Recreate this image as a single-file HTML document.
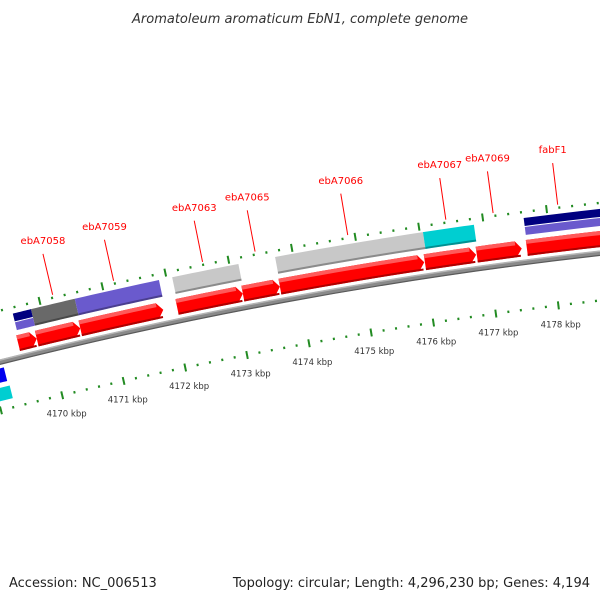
<!DOCTYPE html>
<html><head><meta charset="utf-8"><style>
html,body{margin:0;padding:0;background:#fff;overflow:hidden;width:600px;height:600px;}
svg{display:block;font-family:"DejaVu Sans","Liberation Sans",sans-serif;overflow:hidden;}
</style></head><body>
<svg id="map" width="600" height="600" viewBox="0 0 600 600" xmlns="http://www.w3.org/2000/svg">
<rect width="600" height="600" fill="#fff"/>
<text x="300" y="23" text-anchor="middle" font-size="13" font-style="italic" fill="#333">Aromatoleum aromaticum EbN1, complete genome</text>
<g id="layer"></g>
<text x="9" y="587" font-size="13" fill="#222">Accession: NC_006513</text>
<text x="590" y="587" text-anchor="end" font-size="13" fill="#222">Topology: circular; Length: 4,296,230 bp; Genes: 4,194</text>
</svg>
<script>
// forward-strand CDS (kbp)
const fwdStart = [4169.52, 4169.82, 4170.52, 4172.07, 4173.12, 4173.71, 4176.01, 4176.83, 4177.62];
const fwdEnd   = [4169.82, 4170.52, 4171.85, 4173.12, 4173.71, 4176.00, 4176.82, 4177.54, 4179.40];
// COG-class feature ring (kbp)
const featStart = [4169.84, 4170.54, 4172.09, 4173.72, 4176.05];
const featEnd   = [4170.54, 4171.88, 4173.14, 4176.05, 4176.85];
const featClass = ["dark", "purple", "light", "light", "cyan"];
// split (two-class) features
const splitStart = [4169.55, 4177.63];
const splitEnd   = [4169.84, 4179.40];
// reverse-strand features
const revStart = [4168.90, 4168.90];
const revEnd   = [4169.21, 4169.23];
const revClass = ["blue", "cyan"];
// gene labels
const geneNames = ["ebA7058","ebA7059","ebA7063","ebA7065","ebA7066","ebA7067","ebA7069","fabF1"];
const geneAnchor = [4170.22, 4171.19, 4172.60, 4173.43, 4174.89, 4176.43, 4177.17, 4178.18];
// ruler
const rulerMin = 4168.8, rulerMax = 4179.4, rulerStep = 0.2;
const kbpLabels = [4170, 4171, 4172, 4173, 4174, 4175, 4176, 4177, 4178];

const CX = 1103, CY = 4729, R = 4504;
const PHI0 = -0.2074, K = 0.01415;
const colors = {dark:"#696969", purple:"#6a5acd", light:"#c8c8c8", cyan:"#00ced1", blue:"#0000ee", navy:"#000080"};
const NS = "http://www.w3.org/2000/svg";
const layer = document.getElementById('layer');

function phi(k){ return PHI0 + (k - 4172) * K; }
function pt(r, k){ const p = phi(k); return [CX + r*Math.sin(p), CY - r*Math.cos(p)]; }
function mk(tag, attrs){ const e = document.createElementNS(NS, tag); for (const a in attrs) e.setAttribute(a, attrs[a]); layer.appendChild(e); return e; }
function arcPts(r, k1, k2){ const out=[]; const n=10; for(let i=0;i<=n;i++){ out.push(pt(r, k1+(k2-k1)*i/n)); } return out; }
function band(k1, k2, r1, r2, fill){
  const pts = arcPts(r2, k1, k2).concat(arcPts(r1, k2, k1));
  return mk('polygon', {points: pts.map(p=>p[0].toFixed(2)+','+p[1].toFixed(2)).join(' '), fill: fill});
}
function arrow(k1, k2, r1, r2, fill){
  const head = 6 / (R * K);
  const kb = Math.max(k1, k2 - head);
  const pts = arcPts(r2, k1, kb).concat([pt((r1+r2)/2, k2)]).concat(arcPts(r1, kb, k1));
  return mk('polygon', {points: pts.map(p=>p[0].toFixed(2)+','+p[1].toFixed(2)).join(' '), fill: fill});
}

// backbone
let bb = mk('circle', {cx:CX, cy:CY, r:R, fill:'none', stroke:'#8a8a8a', 'stroke-width':5});


let bbt = mk('circle', {cx:CX, cy:CY, r:R+2, fill:'none', stroke:'#b5b5b5', 'stroke-width':1.5});


let bbb = mk('circle', {cx:CX, cy:CY, r:R-2.2, fill:'none', stroke:'#5a5a5a', 'stroke-width':1.2});



// rulers
function ruler(r, name){
  const n = Math.round((rulerMax - rulerMin) / rulerStep);
  for (let i = 0; i <= n; i++){
    const k = rulerMin + i * rulerStep;
    const major = Math.abs(k - Math.round(k)) < 1e-6;
    const h = major ? 4 : 1.2;
    const a = pt(r - h, k), b = pt(r + h, k);
    const t = mk('line', {x1:a[0], y1:a[1], x2:b[0], y2:b[1], stroke:'#228b22', 'stroke-width':2});
    
    
  }
}
ruler(R - 47, 'lower-ruler');
ruler(R + 50, 'upper-ruler');
kbpLabels.forEach(k => {
  const p = pt(R - 66, k);
  const t = mk('text', {x:p[0], y:p[1]+3, 'text-anchor':'middle', 'font-size':8.5, fill:'#333'});
  t.textContent = k + ' kbp';
  
  
});

// forward CDS arrows
fwdStart.forEach((s, i) => {
  const e = fwdEnd[i];
  const a = arrow(s, e, R + 6, R + 22, '#ff0000');
  
  
  const head = 6 / (R * K);
  const hl = band(s, Math.max(s, e - head), R + 18, R + 22, '#ff5a5a');
  
  
  const sh = band(s, Math.max(s, e - head*0.3), R + 6, R + 8, '#b00000');
  
  
});

// feature ring
featStart.forEach((s, i) => {
  const b = band(s, featEnd[i], R + 27, R + 44, colors[featClass[i]]);
  
  
  const sh = band(s, featEnd[i], R + 27, R + 29, 'rgba(0,0,0,0.3)');
  
  
});
splitStart.forEach((s, i) => {
  const top = band(s, splitEnd[i], R + 36, R + 44, colors.navy);
  
  
  const bot = band(s, splitEnd[i], R + 27, R + 35, colors.purple);
  
  
});

// reverse strand
revStart.forEach((s, i) => {
  const r1 = i === 0 ? R - 20 : R - 38, r2 = i === 0 ? R - 6 : R - 25;
  const b = band(s, revEnd[i], r1, r2, colors[revClass[i]]);
  
  
});

// gene labels
geneNames.forEach((g, i) => {
  const k = geneAnchor[i];
  const a = pt(R + 53, k), b = pt(R + 95, k);
  const l = mk('line', {x1:a[0], y1:a[1], x2:b[0], y2:b[1], stroke:'#ff0000', 'stroke-width':1});
  
  
  const p = pt(R + 109, k);
  const t = mk('text', {x:b[0], y:p[1]+4, 'text-anchor':'middle', 'font-size':10, fill:'#ff0000'});
  t.textContent = g;
  
  
});
</script>
</body></html>
